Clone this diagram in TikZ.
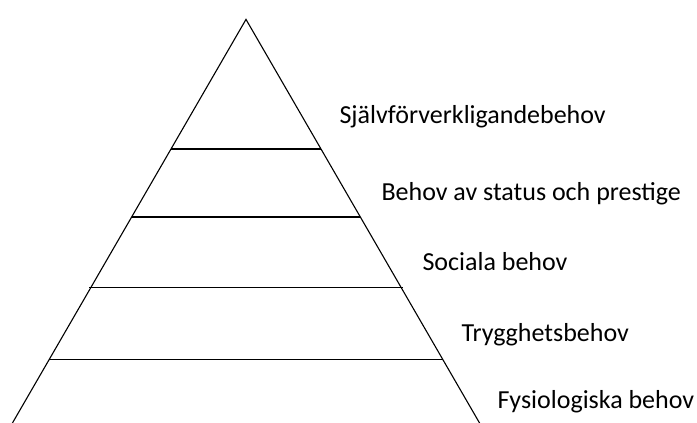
\documentclass[tikz,border=0pt]{standalone}
\usepackage{fontspec}
\setmainfont{Carlito}

\begin{document}
\begin{tikzpicture}[x=1pt,y=-1pt,line width=1.1pt,
    level/.style={font=\fontsize{26}{30}\selectfont,anchor=base west,inner sep=0pt}]
    % fix page size
    \useasboundingbox (0,0) rectangle (697,423);
    \clip (0,0) rectangle (697,423);

    % draw pyramid
    \coordinate (top) at (246,19.4);
    \coordinate (left) at (8.4,430);
    \coordinate (right) at (483.6,430);
    \draw[line join=miter] (left) -- (top) -- (right);

    % draw level lines
    \draw (171,149) -- (321,149);
    \draw (131.6,217) -- (360.4,217);
    \draw (89.3,287.3) -- (402.7,287.3);
    \draw (49.3,359.3) -- (442.7,359.3);

    % draw labels
    \node[level] (self) at (339,123) {Självförverkligandebehov};
    \node[level] (status) at (381,200) {Behov av status och prestige};
    \node[level] (social) at (422,270) {Sociala behov};
    \node[level] (safety) at (461,341) {Trygghetsbehov};
    \node[level] (phys) at (497,408) {Fysiologiska behov};
\end{tikzpicture}
\end{document}
